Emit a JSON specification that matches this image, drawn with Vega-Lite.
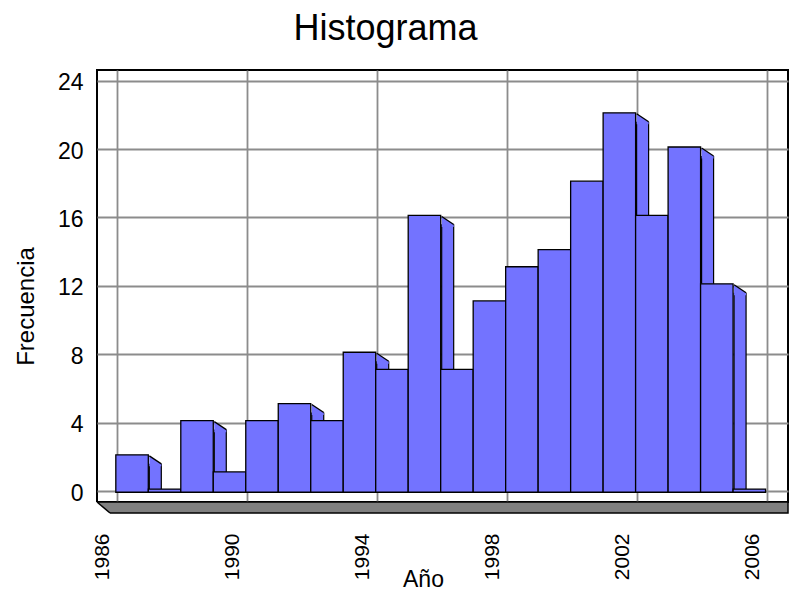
{
  "$schema": "https://vega.github.io/schema/vega-lite/v6.json",
  "width": 691,
  "height": 432,
  "autosize": {"type": "none"},
  "padding": {"left": 97, "top": 70, "right": 1, "bottom": 90},
  "background": "white",
  "title": {"text": "Histograma", "fontSize": 36, "font": "Liberation Sans", "fontWeight": "normal", "color": "black", "anchor": "middle", "frame": "group", "dx": -57, "baseline": "alphabetic", "offset": -6},
  "config": {
    "view": {"stroke": "black", "strokeWidth": 2},
    "axis": {"labelFont": "Liberation Sans", "titleFont": "Liberation Sans", "labelColor": "black", "titleColor": "black", "titleFontSize": 24, "titleFontWeight": "normal", "gridColor": "#8c8c8c", "gridWidth": 1.8, "gridOpacity": 1, "domain": false, "ticks": false}
  },
  "data": {"values": [
    {"start": 1986, "end": 1987, "count": 2},
    {"start": 1987, "end": 1988, "count": 0},
    {"start": 1988, "end": 1989, "count": 4},
    {"start": 1989, "end": 1990, "count": 1},
    {"start": 1990, "end": 1991, "count": 4},
    {"start": 1991, "end": 1992, "count": 5},
    {"start": 1992, "end": 1993, "count": 4},
    {"start": 1993, "end": 1994, "count": 8},
    {"start": 1994, "end": 1995, "count": 7},
    {"start": 1995, "end": 1996, "count": 16},
    {"start": 1996, "end": 1997, "count": 7},
    {"start": 1997, "end": 1998, "count": 11},
    {"start": 1998, "end": 1999, "count": 13},
    {"start": 1999, "end": 2000, "count": 14},
    {"start": 2000, "end": 2001, "count": 18},
    {"start": 2001, "end": 2002, "count": 22},
    {"start": 2002, "end": 2003, "count": 16},
    {"start": 2003, "end": 2004, "count": 20},
    {"start": 2004, "end": 2005, "count": 12},
    {"start": 2005, "end": 2006, "count": 0}
  ]},
  "layer": [
    {
      "data": {"values": [{"part": "floor"}]},
      "mark": {"type": "rect", "fill": "#808080", "stroke": "black", "strokeWidth": 1.5},
      "encoding": {
        "x": {"datum": 1985.39, "type": "quantitative", "scale": {"domain": [1985.39, 2006.66], "nice": false, "zero": false},
          "axis": {"values": [1986, 1990, 1994, 1998, 2002, 2006], "format": "d", "grid": true, "labelFontSize": 21, "labelAngle": -90, "labelAlign": "right", "labelBaseline": "middle", "labelPadding": 31, "labelOffset": -14.5, "title": "Año", "titleFontSize": 23, "titleX": 326, "titleY": 84, "titleBaseline": "alphabetic", "titleAlign": "center"}},
        "x2": {"datum": 2006.66},
        "y": {"datum": -0.64, "type": "quantitative", "scale": {"domain": [-0.64, 24.62], "nice": false, "zero": false},
          "axis": {"values": [0, 4, 8, 12, 16, 20, 24], "grid": true, "labelFontSize": 23, "labelPadding": 14, "labelOffset": 2, "title": "Frecuencia", "titleAngle": -90, "titleX": -64, "titleY": 236, "titleBaseline": "alphabetic", "titleAlign": "center"}},
        "y2": {"datum": -1.28}
      }
    },
    {
      "data": {"values": [{"part": "floor corner"}]},
      "mark": {"type": "point", "shape": "M0,0L13,11L13,14L-3,14L-3,0Z", "size": 4, "filled": true, "fill": "white", "strokeWidth": 0, "opacity": 1},
      "encoding": {
        "x": {"datum": 1985.39, "type": "quantitative", "scale": {"domain": [1985.39, 2006.66], "nice": false, "zero": false},
          "axis": {"values": [1986, 1990, 1994, 1998, 2002, 2006], "format": "d", "grid": true, "labelFontSize": 21, "labelAngle": -90, "labelAlign": "right", "labelBaseline": "middle", "labelPadding": 31, "labelOffset": -14.5, "title": "Año", "titleFontSize": 23, "titleX": 326, "titleY": 84, "titleBaseline": "alphabetic", "titleAlign": "center"}},
        "y": {"datum": -0.64, "type": "quantitative", "scale": {"domain": [-0.64, 24.62], "nice": false, "zero": false},
          "axis": {"values": [0, 4, 8, 12, 16, 20, 24], "grid": true, "labelFontSize": 23, "labelPadding": 14, "labelOffset": 2, "title": "Frecuencia", "titleAngle": -90, "titleX": -64, "titleY": 236, "titleBaseline": "alphabetic", "titleAlign": "center"}}
      }
    },
    {
      "data": {"values": [{"part": "floor edge"}]},
      "mark": {"type": "point", "shape": "M0,0L13,11", "size": 4, "filled": false, "stroke": "black", "strokeWidth": 1.5, "opacity": 1},
      "encoding": {
        "x": {"datum": 1985.39, "type": "quantitative", "scale": {"domain": [1985.39, 2006.66], "nice": false, "zero": false},
          "axis": {"values": [1986, 1990, 1994, 1998, 2002, 2006], "format": "d", "grid": true, "labelFontSize": 21, "labelAngle": -90, "labelAlign": "right", "labelBaseline": "middle", "labelPadding": 31, "labelOffset": -14.5, "title": "Año", "titleFontSize": 23, "titleX": 326, "titleY": 84, "titleBaseline": "alphabetic", "titleAlign": "center"}},
        "y": {"datum": -0.64, "type": "quantitative", "scale": {"domain": [-0.64, 24.62], "nice": false, "zero": false},
          "axis": {"values": [0, 4, 8, 12, 16, 20, 24], "grid": true, "labelFontSize": 23, "labelPadding": 14, "labelOffset": 2, "title": "Frecuencia", "titleAngle": -90, "titleX": -64, "titleY": 236, "titleBaseline": "alphabetic", "titleAlign": "center"}}
      }
    },
    {
      "transform": [{"filter": "datum.count > 0"}],
      "mark": {"type": "rect", "fill": "#7373ff", "stroke": "black", "strokeWidth": 1.2, "x2Offset": 12, "yOffset": 7.5, "y2Offset": 1.2},
      "encoding": {
        "x": {"field": "end", "type": "quantitative", "scale": {"domain": [1985.39, 2006.66], "nice": false, "zero": false},
          "axis": {"values": [1986, 1990, 1994, 1998, 2002, 2006], "format": "d", "grid": true, "labelFontSize": 21, "labelAngle": -90, "labelAlign": "right", "labelBaseline": "middle", "labelPadding": 31, "labelOffset": -14.5, "title": "Año", "titleFontSize": 23, "titleX": 326, "titleY": 84, "titleBaseline": "alphabetic", "titleAlign": "center"}},
        "x2": {"field": "end"},
        "y": {"field": "count", "type": "quantitative", "scale": {"domain": [-0.64, 24.62], "nice": false, "zero": false},
          "axis": {"values": [0, 4, 8, 12, 16, 20, 24], "grid": true, "labelFontSize": 23, "labelPadding": 14, "labelOffset": 2, "title": "Frecuencia", "titleAngle": -90, "titleX": -64, "titleY": 236, "titleBaseline": "alphabetic", "titleAlign": "center"}},
        "y2": {"datum": 0}
      }
    },
    {
      "transform": [{"filter": "datum.count > 0"}],
      "mark": {"type": "point", "shape": "M0,-1L12,7L12,9.5L0,9.5Z", "size": 4, "filled": true, "fill": "#7373ff", "strokeWidth": 0, "opacity": 1},
      "encoding": {
        "x": {"field": "end", "type": "quantitative", "scale": {"domain": [1985.39, 2006.66], "nice": false, "zero": false},
          "axis": {"values": [1986, 1990, 1994, 1998, 2002, 2006], "format": "d", "grid": true, "labelFontSize": 21, "labelAngle": -90, "labelAlign": "right", "labelBaseline": "middle", "labelPadding": 31, "labelOffset": -14.5, "title": "Año", "titleFontSize": 23, "titleX": 326, "titleY": 84, "titleBaseline": "alphabetic", "titleAlign": "center"}},
        "y": {"field": "count", "type": "quantitative", "scale": {"domain": [-0.64, 24.62], "nice": false, "zero": false},
          "axis": {"values": [0, 4, 8, 12, 16, 20, 24], "grid": true, "labelFontSize": 23, "labelPadding": 14, "labelOffset": 2, "title": "Frecuencia", "titleAngle": -90, "titleX": -64, "titleY": 236, "titleBaseline": "alphabetic", "titleAlign": "center"}}
      }
    },
    {
      "transform": [{"filter": "datum.count > 0"}],
      "mark": {"type": "point", "shape": "M0,-1L12,7", "size": 4, "filled": false, "stroke": "black", "strokeWidth": 1.3, "opacity": 1},
      "encoding": {
        "x": {"field": "end", "type": "quantitative", "scale": {"domain": [1985.39, 2006.66], "nice": false, "zero": false},
          "axis": {"values": [1986, 1990, 1994, 1998, 2002, 2006], "format": "d", "grid": true, "labelFontSize": 21, "labelAngle": -90, "labelAlign": "right", "labelBaseline": "middle", "labelPadding": 31, "labelOffset": -14.5, "title": "Año", "titleFontSize": 23, "titleX": 326, "titleY": 84, "titleBaseline": "alphabetic", "titleAlign": "center"}},
        "y": {"field": "count", "type": "quantitative", "scale": {"domain": [-0.64, 24.62], "nice": false, "zero": false},
          "axis": {"values": [0, 4, 8, 12, 16, 20, 24], "grid": true, "labelFontSize": 23, "labelPadding": 14, "labelOffset": 2, "title": "Frecuencia", "titleAngle": -90, "titleX": -64, "titleY": 236, "titleBaseline": "alphabetic", "titleAlign": "center"}}
      }
    },
    {
      "mark": {"type": "rect", "fill": "#7373ff", "stroke": "black", "strokeWidth": 1.3, "xOffset": -1, "x2Offset": -1, "yOffset": -2, "y2Offset": 1.2},
      "encoding": {
        "x": {"field": "start", "type": "quantitative", "scale": {"domain": [1985.39, 2006.66], "nice": false, "zero": false},
          "axis": {"values": [1986, 1990, 1994, 1998, 2002, 2006], "format": "d", "grid": true, "labelFontSize": 21, "labelAngle": -90, "labelAlign": "right", "labelBaseline": "middle", "labelPadding": 31, "labelOffset": -14.5, "title": "Año", "titleFontSize": 23, "titleX": 326, "titleY": 84, "titleBaseline": "alphabetic", "titleAlign": "center"}},
        "x2": {"field": "end"},
        "y": {"field": "count", "type": "quantitative", "scale": {"domain": [-0.64, 24.62], "nice": false, "zero": false},
          "axis": {"values": [0, 4, 8, 12, 16, 20, 24], "grid": true, "labelFontSize": 23, "labelPadding": 14, "labelOffset": 2, "title": "Frecuencia", "titleAngle": -90, "titleX": -64, "titleY": 236, "titleBaseline": "alphabetic", "titleAlign": "center"}},
        "y2": {"datum": 0}
      }
    }
  ]
}
